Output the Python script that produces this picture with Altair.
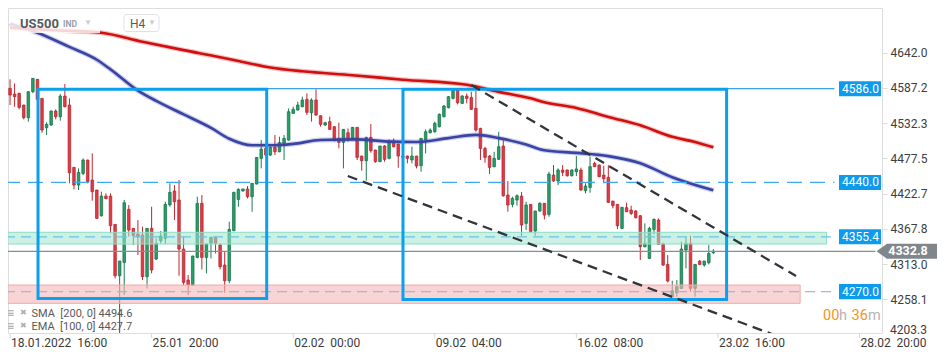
import altair as alt
import pandas as pd

# ---------------- data ----------------
opens = [4586.5, 4577.6, 4578.7, 4560.5, 4540.8, 4581.3, 4600.5, 4570.9, 4525.2, 4529.4,
         4551.2, 4542.4, 4574.5, 4560.5, 4463.5, 4435.9, 4454.1, 4474.9, 4443.7, 4428.2,
         4388.2, 4418.8, 4418.8, 4374.7, 4294.8, 4315.5, 4398.1, 4368.5, 4359.7, 4358.1,
         4293.3, 4368.5, 4320.7, 4349.3, 4352.9, 4405.0, 4426.6, 4412.6, 4336.3, 4288.0,
         4280.2, 4323.3, 4407.5, 4323.3, 4345.2, 4354.5, 4342.5, 4311.4, 4287.0, 4365.0,
         4413.6, 4426.6, 4429.7, 4417.8, 4437.5, 4477.5, 4493.0, 4482.7, 4494.6, 4487.8,
         4500.9, 4506.0, 4547.5, 4552.7, 4557.9, 4569.3, 4548.6, 4568.3, 4543.9, 4529.4,
         4534.6, 4526.8, 4508.6, 4502.4, 4517.4, 4508.6, 4525.7, 4481.1, 4473.8, 4510.2,
         4490.5, 4472.3, 4496.7, 4477.5, 4503.4, 4499.8, 4481.0, 4481.1, 4475.0, 4481.1,
         4466.0, 4506.0, 4517.4, 4519.0, 4526.8, 4542.4, 4556.4, 4570.9, 4583.9, 4563.1,
         4574.5, 4572.4, 4555.3, 4524.2, 4493.0, 4481.1, 4464.5, 4476.0, 4496.7, 4420.4,
         4405.8, 4412.6, 4418.8, 4376.3, 4405.8, 4364.3, 4395.5, 4407.5, 4390.3, 4451.5,
         4442.2, 4459.4, 4459.4, 4450.5, 4456.7, 4459.4, 4427.1, 4432.3, 4469.7, 4467.1,
         4451.5, 4447.9, 4411.0, 4405.8, 4368.5, 4400.7, 4397.1, 4395.5, 4388.2, 4339.9,
         4321.8, 4366.9, 4381.5, 4344.1, 4312.4, 4262.1, 4268.3, 4275.1, 4334.8, 4345.2,
         4275.1, 4317.6, 4311.4, 4315.0, 4330.6]
highs = [4600.5, 4594.2, 4579.7, 4561.0, 4582.0, 4602.5, 4601.0, 4571.0, 4533.5, 4552.0,
         4553.8, 4577.6, 4593.2, 4570.9, 4464.0, 4461.9, 4477.5, 4475.5, 4485.2, 4428.5,
         4425.6, 4423.0, 4423.0, 4375.0, 4318.0, 4412.6, 4404.8, 4369.0, 4381.4, 4371.1,
         4369.0, 4402.2, 4352.9, 4364.3, 4410.0, 4438.6, 4435.9, 4443.7, 4355.6, 4295.8,
         4326.0, 4417.8, 4420.4, 4345.2, 4355.6, 4355.6, 4345.2, 4332.1, 4378.9, 4425.6,
         4430.8, 4430.5, 4434.4, 4439.0, 4479.5, 4506.0, 4498.2, 4496.0, 4513.8, 4511.2,
         4513.8, 4555.3, 4557.9, 4565.7, 4573.5, 4578.7, 4570.9, 4584.9, 4544.5, 4534.6,
         4542.4, 4527.5, 4533.0, 4523.0, 4524.2, 4526.5, 4526.5, 4481.5, 4511.2, 4530.9,
         4491.0, 4497.0, 4498.2, 4507.0, 4508.6, 4500.5, 4484.0, 4481.5, 4495.6, 4481.5,
         4509.0, 4522.6, 4524.2, 4534.6, 4547.5, 4560.5, 4574.5, 4586.5, 4586.5, 4576.1,
         4578.7, 4581.3, 4582.8, 4525.0, 4495.6, 4482.7, 4487.8, 4519.0, 4506.0, 4442.2,
         4417.8, 4421.4, 4425.0, 4410.0, 4406.5, 4396.0, 4409.0, 4408.0, 4456.7, 4467.1,
         4461.9, 4467.1, 4460.0, 4460.3, 4481.1, 4463.0, 4438.6, 4480.1, 4472.3, 4468.0,
         4466.0, 4467.1, 4411.5, 4406.5, 4402.0, 4408.4, 4403.8, 4397.1, 4389.0, 4376.3,
         4371.1, 4384.0, 4384.0, 4346.2, 4326.9, 4287.0, 4288.0, 4347.7, 4355.6, 4357.1,
         4313.0, 4319.2, 4318.0, 4342.5, 4336.3]
lows = [4560.5, 4557.9, 4553.8, 4538.2, 4534.6, 4579.0, 4568.0, 4517.4, 4513.8, 4528.0,
        4538.2, 4536.1, 4557.0, 4438.6, 4429.2, 4428.2, 4451.5, 4438.6, 4411.6, 4383.5,
        4386.7, 4414.0, 4360.7, 4290.6, 4262.1, 4264.7, 4355.6, 4342.5, 4327.0, 4288.0,
        4275.0, 4298.4, 4319.2, 4345.2, 4344.1, 4402.2, 4381.4, 4294.8, 4280.2, 4264.7,
        4279.0, 4321.8, 4304.6, 4298.4, 4321.8, 4329.5, 4304.6, 4268.3, 4282.9, 4364.0,
        4402.2, 4426.0, 4415.2, 4394.4, 4437.0, 4461.9, 4480.0, 4481.0, 4482.7, 4487.0,
        4474.9, 4505.0, 4547.0, 4552.0, 4557.0, 4544.9, 4534.6, 4544.0, 4526.8, 4527.8,
        4522.0, 4504.0, 4493.0, 4461.9, 4503.4, 4508.0, 4474.9, 4458.3, 4442.7, 4486.3,
        4470.7, 4472.0, 4472.3, 4475.9, 4494.6, 4462.9, 4474.0, 4469.7, 4469.7, 4461.9,
        4456.7, 4485.2, 4516.4, 4517.4, 4525.7, 4541.3, 4555.3, 4569.3, 4561.5, 4562.0,
        4563.1, 4552.7, 4519.0, 4474.9, 4470.7, 4453.1, 4463.5, 4475.0, 4417.8, 4394.4,
        4401.2, 4403.8, 4355.6, 4365.9, 4362.2, 4357.0, 4394.4, 4382.5, 4386.7, 4441.0,
        4435.9, 4450.0, 4449.0, 4449.0, 4450.0, 4427.0, 4423.0, 4424.0, 4464.0, 4448.0,
        4438.6, 4408.0, 4399.6, 4367.4, 4367.5, 4394.0, 4389.2, 4384.0, 4319.2, 4339.0,
        4321.0, 4359.1, 4343.0, 4310.0, 4284.4, 4261.0, 4262.1, 4274.0, 4306.2, 4269.9,
        4262.1, 4311.4, 4308.8, 4312.4, 4328.5]
closes = [4576.1, 4573.5, 4556.9, 4540.8, 4581.3, 4602.0, 4569.3, 4521.6, 4530.4, 4551.2,
          4542.4, 4574.5, 4557.9, 4455.1, 4435.9, 4455.7, 4474.9, 4441.1, 4425.6, 4384.0,
          4418.8, 4414.7, 4372.6, 4294.8, 4317.6, 4408.4, 4365.9, 4357.1, 4355.6, 4293.3,
          4368.5, 4303.7, 4345.2, 4356.5, 4405.8, 4424.5, 4410.0, 4336.3, 4284.4, 4280.2,
          4325.4, 4407.5, 4323.3, 4344.1, 4354.5, 4345.2, 4308.8, 4287.0, 4366.9, 4424.5,
          4429.2, 4429.7, 4417.8, 4438.6, 4479.0, 4492.0, 4482.7, 4494.6, 4487.8, 4501.9,
          4508.6, 4550.1, 4553.8, 4560.5, 4568.3, 4549.1, 4568.3, 4544.9, 4530.4, 4533.0,
          4522.6, 4505.0, 4502.4, 4522.6, 4508.6, 4525.7, 4479.0, 4473.8, 4510.2, 4489.4,
          4472.3, 4496.7, 4475.9, 4503.4, 4495.6, 4481.1, 4479.0, 4477.5, 4481.1, 4465.5,
          4508.6, 4519.0, 4521.6, 4532.0, 4546.0, 4559.0, 4573.5, 4582.8, 4564.1, 4574.5,
          4570.9, 4553.8, 4521.6, 4493.0, 4479.0, 4463.5, 4477.5, 4495.6, 4419.3, 4404.8,
          4415.2, 4419.3, 4373.7, 4404.8, 4363.3, 4395.5, 4407.5, 4389.2, 4453.1, 4442.2,
          4459.4, 4455.7, 4450.5, 4459.4, 4461.0, 4428.2, 4434.4, 4464.5, 4464.5, 4449.0,
          4445.8, 4409.0, 4403.8, 4372.6, 4401.2, 4394.4, 4391.8, 4385.1, 4339.9, 4345.2,
          4368.5, 4382.5, 4343.6, 4311.4, 4286.5, 4271.4, 4277.7, 4336.3, 4345.2, 4275.1,
          4312.4, 4312.4, 4317.6, 4329.5, 4332.8]

sma_i = [0, 10, 20, 29, 38, 46, 52, 57, 64, 75, 86, 100, 107, 114, 117, 124, 131, 138, 145, 150, 154]
sma_v = [4681, 4677, 4673, 4659, 4646, 4635, 4626, 4619, 4613, 4607, 4600, 4592, 4581, 4571,
         4565, 4556, 4542, 4529, 4511, 4503, 4494.6]
ema_i = [0, 6, 13, 19, 22, 28, 32, 38, 44, 48, 53, 58, 62, 68, 76, 82, 89, 96, 102, 107, 113,
         117, 124, 131, 138, 145, 154]
ema_v = [4687, 4673, 4651, 4631, 4616, 4583, 4567, 4546, 4525, 4508, 4498, 4498, 4500, 4506,
         4507, 4504, 4503, 4509, 4514, 4509, 4499, 4490, 4486, 4481, 4470, 4448, 4427.7]

level_vals = [4586.0, 4440.0, 4355.4, 4270.0]
last_price = 4332.8
sma_last = 4494.6
ema_last = 4427.7

green_zone = [4344.1, 4362.4]
red_zone = [4251.8, 4280.3]

box_x1 = [6.13, 86.04]
box_x2 = [56.2, 156.9]
box_top = [4585.2, 4585.2]
box_bot = [4259.3, 4257.7]

trend_i = [101.0, 172.1, 73.96, 168.6]
trend_v = [4591.7, 4294.3, 4450.0, 4199.3]
trend_g = ["upper", "upper", "lower", "lower"]

tick_i = [0, 31, 62, 93, 124, 155, 186]
tick_labels = ["18.01.2022\u00a0\u00a016:00", "25.01\u00a0\u00a020:00", "02.02\u00a0\u00a000:00",
               "09.02\u00a0\u00a004:00", "16.02\u00a0\u00a008:00", "23.02\u00a0\u00a016:00",
               "28.02\u00a0\u00a020:00"]
yaxis_vals = [4642.0, 4587.2, 4532.3, 4477.5, 4422.7, 4367.8, 4313.0, 4258.1]
yaxis_last = "4203.3"

# ---------------- chart ----------------
W, H = 874, 325
XD = [0.649, 189.83]
YD = [4205.6, 4711.6]
xs = alt.Scale(domain=XD, nice=False, zero=False)
ys = alt.Scale(domain=YD, nice=False, zero=False)
FONT = "Roboto"

cdf = pd.DataFrame({"i": list(range(len(opens))), "o": opens, "h": highs, "l": lows, "c": closes})
up = "datum.c >= datum.o"

yaxis = alt.Axis(orient="right", values=yaxis_vals, format=".1f", domain=False, grid=False,
                 ticks=True, tickSize=5, tickColor="#dcdcdc", labelColor="#3c4043",
                 labelFont=FONT, labelFontSize=12, labelPadding=3, title=None)

wicks = alt.Chart(cdf).mark_rule(strokeWidth=1).encode(
    x=alt.X("i:Q", scale=xs, axis=None),
    y=alt.Y("l:Q", scale=ys, axis=yaxis),
    y2="h:Q",
    color=alt.condition(up, alt.value("#1e7a50"), alt.value("#c0262f")),
)
bodies = alt.Chart(cdf).mark_bar(size=2.6, strokeWidth=0.7).encode(
    x=alt.X("i:Q", scale=xs),
    y=alt.Y("o:Q", scale=ys),
    y2="c:Q",
    fill=alt.condition(up, alt.value("#25a069"), alt.value("#e23a45")),
    stroke=alt.condition(up, alt.value("#166b45"), alt.value("#b0222d")),
)

# vertical marker line under one candle
vline = alt.Chart(pd.DataFrame({"i": [24], "v": [lows[24]]})).mark_rule(
    color="#2e5e46", strokeWidth=1).encode(
    x=alt.X("i:Q", scale=xs), y=alt.Y("v:Q", scale=ys), y2=alt.value(325))

sma_df = pd.DataFrame({"i": sma_i, "v": sma_v})
ema_df = pd.DataFrame({"i": ema_i, "v": ema_v})


def ma_layers(df, color):
    enc = dict(x=alt.X("i:Q", scale=xs), y=alt.Y("v:Q", scale=ys))
    halo = alt.Chart(df).mark_line(color=color, strokeWidth=5, opacity=0.25,
                                   interpolate="monotone").encode(**enc)
    core = alt.Chart(df).mark_line(color=color, strokeWidth=2.6,
                                   interpolate="monotone").encode(**enc)
    return [halo, core]


def band(lo_hi, x2, fill, stroke, op):
    d = pd.DataFrame({"x1": [-1.1], "x2": [x2], "y1": [lo_hi[0]], "y2": [lo_hi[1]]})
    return alt.Chart(d).mark_rect(fill=fill, fillOpacity=op, stroke=stroke, strokeWidth=1).encode(
        x=alt.X("x1:Q", scale=xs), x2="x2:Q", y=alt.Y("y1:Q", scale=ys), y2="y2:Q")


green_band = band(green_zone, 178.8, "#9fe5cc", "#8edcc2", 0.55)
red_band = band(red_zone, 173.0, "#f5b8b8", "#f2a8a8", 0.6)


def level_line(v, x1, color, dash, width=1.2):
    d = pd.DataFrame({"x1": [x1], "x2": [180.5], "v": [v]})
    kw = dict(color=color, strokeWidth=width)
    if dash:
        kw["strokeDash"] = dash
    return alt.Chart(d).mark_rule(**kw).encode(
        x=alt.X("x1:Q", scale=xs), x2="x2:Q", y=alt.Y("v:Q", scale=ys))


lvl_lines = [
    level_line(level_vals[0], 56.3, "#3aa3f0", None, 1.4),
    level_line(level_vals[1], -1.1, "#3eaaf0", [15, 8]),
    level_line(level_vals[2], -1.1, "#6cc2e8", [10, 6]),
    level_line(level_vals[3], -1.1, "#9fb9dc", [10, 6]),
]

cur_line = alt.Chart(pd.DataFrame({"x1": [-1.1], "x2": [189.5], "v": [last_price]})).mark_rule(
    color="#878d92", strokeWidth=1.2).encode(
    x=alt.X("x1:Q", scale=xs), x2="x2:Q", y=alt.Y("v:Q", scale=ys))

box_df = pd.DataFrame({"x1": box_x1, "x2": box_x2, "y1": box_top, "y2": box_bot})
boxes = alt.Chart(box_df).mark_rect(filled=False, color="#0aa0ee", strokeWidth=3).encode(
    x=alt.X("x1:Q", scale=xs), x2="x2:Q", y=alt.Y("y1:Q", scale=ys), y2="y2:Q")

trend_df = pd.DataFrame({"i": trend_i, "v": trend_v, "g": trend_g})
trends = alt.Chart(trend_df).mark_line(color="#30363b", strokeWidth=2.3, strokeDash=[10, 6],
                                       clip=True).encode(
    x=alt.X("i:Q", scale=xs), y=alt.Y("v:Q", scale=ys), detail="g:N")

lab_df = pd.DataFrame({"v": level_vals})
lab_boxes = alt.Chart(lab_df).transform_calculate(
    top="datum.v + 11.7", bot="datum.v - 11.7").mark_rect(color="#0d9bf0").encode(
    x=alt.value(831), x2=alt.value(873), y=alt.Y("top:Q", scale=ys), y2="bot:Q")
lab_text = alt.Chart(lab_df).mark_text(color="white", font=FONT, fontSize=12).encode(
    x=alt.value(852.5), y=alt.Y("v:Q", scale=ys), text=alt.Text("v:Q", format=".1f"))

cp_df = pd.DataFrame({"v": [last_price]})
cp_box = alt.Chart(cp_df).transform_calculate(
    top="datum.v + 11.7", bot="datum.v - 11.7").mark_rect(color="#7f878c").encode(
    x=alt.value(878.5), x2=alt.value(929), y=alt.Y("top:Q", scale=ys), y2="bot:Q")
cp_arrow = alt.Chart(cp_df).mark_point(shape="M -1.4 0 L 0 -1 L 0 1 Z", size=225, filled=True,
                                       color="#7f878c", opacity=1).encode(
    x=alt.value(879), y=alt.Y("v:Q", scale=ys))
cp_text = alt.Chart(cp_df).mark_text(color="white", font=FONT, fontSize=12.5,
                                     fontWeight="bold").encode(
    x=alt.value(900), y=alt.Y("v:Q", scale=ys), text=alt.Text("v:Q", format=".1f"))

tick_df = pd.DataFrame({"i": tick_i, "lab": tick_labels})
xticks = alt.Chart(tick_df).mark_rule(color="#d6d6d6").encode(
    x=alt.X("i:Q", scale=xs), y=alt.value(325), y2=alt.value(330))
xlabels = alt.Chart(tick_df).mark_text(align="left", baseline="alphabetic", dx=1, font=FONT,
                                       fontSize=12, color="#3a3a3a").encode(
    x=alt.X("i:Q", scale=xs), y=alt.value(338.5), text="lab:N")

one = pd.DataFrame({"a": [0]})


def label(txt, x, y, color, size, weight="normal", align="left", baseline="middle"):
    return alt.Chart(one).mark_text(text=txt, color=color, fontSize=size, fontWeight=weight,
                                    align=align, baseline=baseline, font=FONT).encode(
        x=alt.value(x), y=alt.value(y))


veil = alt.Chart(one).mark_rect(fill="white", opacity=0.82).encode(
    x=alt.value(2), x2=alt.value(92), y=alt.value(6), y2=alt.value(25))
h4box = alt.Chart(one).mark_rect(fill="white", stroke="#dfe1e3", strokeWidth=1,
                                 cornerRadius=3).encode(
    x=alt.value(116), x2=alt.value(151), y=alt.value(6.5), y2=alt.value(23.5))

texts = [
    label("US500", 12, 15.5, "#54595e", 13, "bold"),
    label("IND", 55, 16, "#9aa0a6", 8.5, "bold"),
    label("\u25bc", 76, 14.5, "#c8cbcf", 8),
    label("H4", 122, 15.5, "#555a5f", 12),
    label("\u25bc", 140, 15, "#c8cbcf", 8),
    label("\u2261", 3, 305, "#a8a8a8", 12, "bold", "center"),
    label("\u2716", 15.5, 305, "#b0b0b0", 8, "normal", "center"),
    label("\u2261", 3, 318, "#a8a8a8", 12, "bold", "center"),
    label("\u2716", 15.5, 318, "#b0b0b0", 8, "normal", "center"),
    label(f"SMA\u00a0\u00a0[200,\u00a00]\u00a0{sma_last}", 23.5, 305.5, "#5a5a5a", 11),
    label(f"EMA\u00a0\u00a0[100,\u00a00]\u00a0{ema_last}", 23.5, 318.5, "#5a5a5a", 11),
    label("00", 815, 307.5, "#f7931e", 14.5),
    label("h", 831, 307.5, "#b4b4b4", 14.5),
    label("36", 843.5, 307.5, "#f7931e", 14.5),
    label("m", 860, 307.5, "#b4b4b4", 14.5),
    label(yaxis_last, 882, 322, "#3c4043", 12),
]

layers = [wicks, bodies, vline] + ma_layers(ema_df, "#3a44a5") + ma_layers(sma_df, "#d10f0f") + [
    green_band, red_band] + lvl_lines + [cur_line, boxes, trends, lab_boxes, lab_text,
                                         cp_box, cp_arrow, cp_text, xticks, xlabels, veil, h4box] + texts

chart = alt.layer(*layers).properties(
    width=W, height=H,
    padding={"left": 0, "top": 0, "right": 60, "bottom": 15},
    autosize=alt.AutoSizeParams(type="none"),
).configure_view(strokeWidth=0).configure(font=FONT, background="white")

chart.save("out.html", embed_options={"renderer": "svg", "actions": False})
